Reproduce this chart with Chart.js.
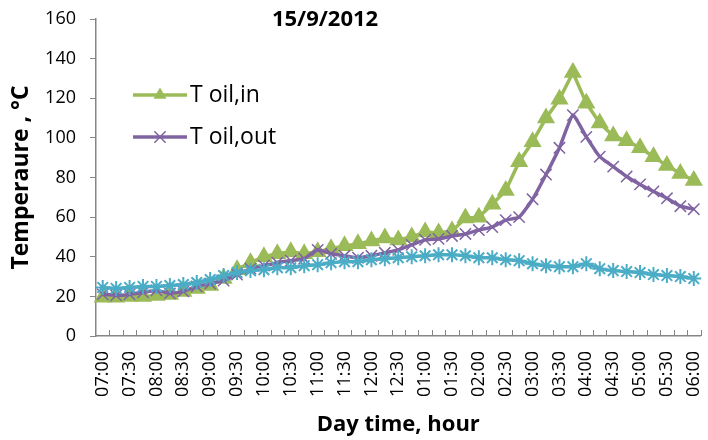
<!DOCTYPE html>
<html><head><meta charset="utf-8">
<script src="https://cdn.jsdelivr.net/npm/chart.js@4/dist/chart.umd.min.js"></script>
<style>
html,body{margin:0;padding:0;overflow:hidden;background:#fff;width:708px;height:440px}
#wrap{position:relative;width:711px;height:440px}
canvas{display:block}
</style>
</head><body><div id="wrap"><canvas id="c" width="711" height="440" style="width:711px;height:440px"></canvas></div>
<script>
const chartTitle = "15/9/2012";
const xTitle = "Day time, hour";
const yTitle = "Temperaure , °C";
const categories = ["07:00","07:15","07:30","07:45","08:00","08:15","08:30","08:45","09:00","09:15","09:30","09:45",
  "10:00","10:15","10:30","10:45","11:00","11:15","11:30","11:45","12:00","12:15","12:30","12:45",
  "01:00","01:15","01:30","01:45","02:00","02:15","02:30","02:45","03:00","03:15","03:30","03:45",
  "04:00","04:15","04:30","04:45","05:00","05:15","05:30","05:45","06:00"];
const tOilIn = [19.5,19.5,20,20,20.5,21,22.5,24,25.5,29,33.5,37,40,41.5,42.5,41.5,42.5,44,45.5,46.5,48,49.5,48.5,50,
  52.5,52,53,59.5,60,66.5,73.5,88,98,110,119.5,133,117.5,107.5,101,98.5,95,90.5,86,82,78.5];
const tOilOut = [21,20.5,21,22,23,21.5,22.5,25,26.5,28,31,34,35.5,37,38,39,43.5,41.5,40.5,39.5,40.5,42,43.5,46,
  48.5,49,50.5,51.5,53.5,55,58.5,60,69,81.5,95,111.5,100.5,90.5,85.5,80.5,76.5,73,69.5,65.5,64];
const tThird = [24.5,24,24.5,25,25,25.5,26,27,28.5,30.5,32,33,33.5,34.5,34.5,35.5,36,37,37.5,37.5,38.5,39,39.5,40,
  40.5,41,41,40.5,39.5,39.5,38.5,38,36.5,35.5,35,35,36.5,34,33,32.5,32,31,30.5,30,29];
const yMin = 0, yMax = 160, yStep = 20;

const GREEN = '#9BBB59', PURPLE = '#8064A2', CYAN = '#4BACC6', AXIS = '#868686';
const FONT = "'Open Sans', sans-serif";
Chart.defaults.font.family = FONT;
Chart.defaults.color = '#000';

function drawMarker(ctx, style, color, x, y, r) {
  ctx.save();
  ctx.fillStyle = color; ctx.strokeStyle = color; ctx.lineWidth = 1.5;
  ctx.beginPath();
  if (style === 'triangle') {
    let a = 0;
    ctx.moveTo(x + Math.sin(a) * r, y - Math.cos(a) * r);
    a += 2 * Math.PI / 3; ctx.lineTo(x + Math.sin(a) * r, y - Math.cos(a) * r);
    a += 2 * Math.PI / 3; ctx.lineTo(x + Math.sin(a) * r, y - Math.cos(a) * r);
    ctx.closePath(); ctx.fill();
  } else {
    const o = Math.cos(Math.PI / 4) * r;
    ctx.moveTo(x - o, y - o); ctx.lineTo(x + o, y + o);
    ctx.moveTo(x - o, y + o); ctx.lineTo(x + o, y - o);
    ctx.stroke();
  }
  ctx.restore();
}

const innerTicks = {
  id: 'innerTicks',
  beforeDatasetsDraw(chart) {
    const xs = chart.scales.x, ctx = chart.ctx, b = chart.chartArea.bottom;
    const step = xs.getPixelForValue(1) - xs.getPixelForValue(0);
    ctx.save(); ctx.strokeStyle = AXIS; ctx.lineWidth = 1; ctx.beginPath();
    for (let i = 1; i <= categories.length; i++) {
      const px = Math.round(xs.getPixelForValue(i) - step / 2) + 0.5;
      ctx.moveTo(px, b); ctx.lineTo(px, b - 6);
    }
    ctx.stroke(); ctx.restore();
  }
};

const titleAndLegend = {
  id: 'titleAndLegend',
  afterDraw(chart) {
    const ctx = chart.ctx;
    ctx.save();
    ctx.fillStyle = '#000';
    ctx.font = "bold 22px " + FONT;
    ctx.textAlign = 'center'; ctx.textBaseline = 'middle';
    ctx.fillText(chartTitle, 325, 20);
    const items = chart.data.datasets.slice(0, 2);
    const rows = [95, 137];
    items.forEach((ds, i) => {
      const y = rows[i];
      ctx.strokeStyle = ds.borderColor; ctx.lineWidth = 3.5;
      ctx.beginPath(); ctx.moveTo(133, y); ctx.lineTo(187, y); ctx.stroke();
      drawMarker(ctx, ds.pointStyle, ds.borderColor, 160, y, ds.pointStyle === 'triangle' ? 7.5 : 8);
      ctx.fillStyle = '#000';
      ctx.font = "23px " + FONT;
      ctx.textAlign = 'left'; ctx.textBaseline = 'middle';
      ctx.fillText(ds.label, 190, y);
    });
    ctx.restore();
  }
};

new Chart(document.getElementById('c'), {
  type: 'line',
  data: {
    labels: categories,
    datasets: [
      { label: 'T oil,in', data: tOilIn, borderColor: GREEN, backgroundColor: GREEN, pointBackgroundColor: GREEN,
        pointBorderColor: GREEN, pointStyle: 'triangle', pointRadius: 7, borderWidth: 3.5, order: 3, tension: 0 },
      { label: 'T oil,out', data: tOilOut, borderColor: PURPLE, backgroundColor: PURPLE, pointBorderColor: PURPLE,
        pointStyle: 'crossRot', pointRadius: 8, pointBorderWidth: 1.5, borderWidth: 3.5, order: 2, tension: 0.15 },
      { label: 'T amb', data: tThird, borderColor: CYAN, backgroundColor: CYAN, pointBorderColor: CYAN,
        pointStyle: 'star', pointRadius: 7.5, pointBorderWidth: 2, borderWidth: 3.5, order: 1, tension: 0.15 }
    ]
  },
  options: {
    responsive: false, animation: false, devicePixelRatio: 1,
    layout: { padding: { top: 19, left: 0, right: 0, bottom: 0 } },
    plugins: { legend: { display: false }, title: { display: false }, tooltip: { enabled: false } },
    scales: {
      x: {
        type: 'category', offset: true,
        grid: { display: true, drawOnChartArea: false, drawTicks: false, offset: true },
        border: { display: true, color: AXIS, width: 1.5 },
        ticks: { autoSkip: false, maxRotation: 90, minRotation: 90, padding: 15, font: { size: 18 } ,
          callback(v, i) { return i % 2 === 0 ? categories[i] : ''; } },
        title: { display: true, text: xTitle, font: { size: 22, weight: 'bold' }, padding: { top: 0, bottom: 2 } },
        afterFit(s) { s.height = 104; s.paddingLeft = 0; s.paddingRight = 0; }
      },
      y: {
        min: yMin, max: yMax,
        grid: { display: true, drawOnChartArea: false, drawTicks: true, tickLength: 6, color: AXIS },
        border: { display: true, color: AXIS, width: 1.5 },
        ticks: { stepSize: yStep, padding: 14, font: { size: 18 } },
        title: { display: true, text: yTitle, font: { size: 23, weight: 'bold' }, padding: { top: 8, bottom: 0 } },
        afterFit(s) { s.width = 96; s.paddingTop = 0; s.paddingBottom = 0; }
      }
    }
  },
  plugins: [innerTicks, titleAndLegend]
});
</script>
</body></html>
